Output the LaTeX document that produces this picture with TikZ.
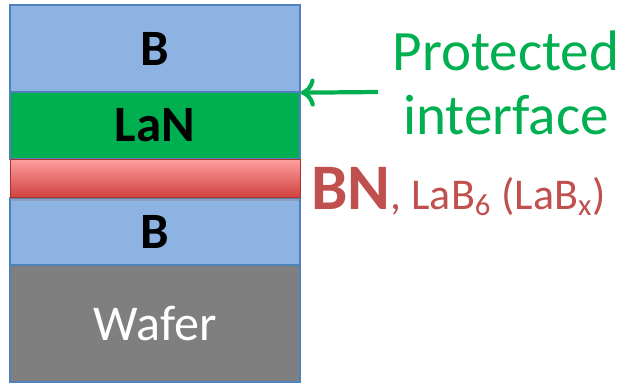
\documentclass[tikz,border=0pt]{standalone}
\usepackage{fontspec}
\setmainfont{Carlito}
\usetikzlibrary{shadows,arrows.meta}
\definecolor{layerblue}{HTML}{8DB3E2}
\definecolor{edgeblue}{HTML}{4F81BD}
\definecolor{lanGreen}{HTML}{00B050}
\definecolor{bnTop}{HTML}{FF9E9E}
\definecolor{bnBot}{HTML}{D0413F}
\definecolor{bnText}{HTML}{C0504D}
\definecolor{waferGray}{HTML}{7F7F7F}
\tikzset{
  layer/.style={rectangle, draw=edgeblue, line width=0.8pt, minimum width=5.8cm, inner sep=0pt},
  bold label/.style={font=\fontsize{29}{32}\selectfont\bfseries}
}

\begin{document}
\begin{tikzpicture}[x=0.02cm,y=-0.02cm]
				\useasboundingbox (0,0) rectangle (625,383);
				% stack of layers
				\node[layer, fill=layerblue, minimum height=1.74cm, bold label] (btop) at (155,48.5) {B};
				\node[layer, fill=lanGreen, minimum height=1.34cm, bold label] (lan) at (155,125.5) {LaN};
				\node[layer, fill=layerblue, minimum height=1.34cm, bold label] (bbot) at (155,231.5) {B};
				\node[layer, fill=waferGray, minimum height=2.34cm, text=white, font=\fontsize{28.5}{32}\selectfont] (wafer) at (155,323.5) {Wafer};
				\node[rectangle, draw=bnBot!80!black, line width=0.4pt, minimum width=5.8cm, minimum height=0.76cm, top color=bnTop, bottom color=bnBot, drop shadow={opacity=0.35, shadow xshift=0pt, shadow yshift=-0.06cm}] (bn) at (155,178.5) {};

				% labels on the right
				\node[text=lanGreen, font=\fontsize{32.5}{36}\selectfont, align=center] (prot) at (506,83) {Protected\\interface};
				\coordinate (tail) at (378,92);
				\draw[lanGreen, line width=2.4pt, -{To[length=8pt, width=16pt]}] (tail) -- (btop.south east);

				\node[anchor=base west, inner sep=0pt, text=bnText] (bnlabel) at (311,209) {\fontsize{37}{42}\selectfont\bfseries BN\fontsize{25}{29}\selectfont\mdseries, LaB\textsubscript{6} (LaB\textsubscript{x})};

				%\draw[red] (0,0) rectangle (625,383);
			\end{tikzpicture}
\end{document}
